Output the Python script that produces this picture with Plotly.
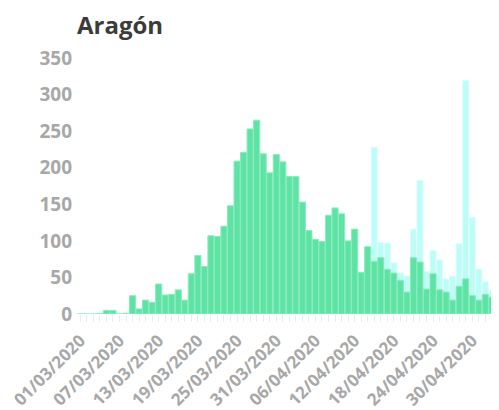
import plotly.graph_objects as go
import datetime as dt

# ---- data ----
start = dt.date(2020, 3, 1)
n_days = 65
dates = [(start + dt.timedelta(days=i)).strftime("%d/%m/%Y") for i in range(n_days)]

confirmed = [0, 0, 0, 1, 5, 5, 0, 1, 25, 7,
             19, 16, 41, 26, 27, 33, 19, 55, 80, 65,
             107, 106, 120, 148, 209, 221, 253, 265, 219, 193,
             218, 208, 188, 188, 153, 114, 102, 99, 135, 145,
             137, 100, 116, 57, 92, 72, 77, 61, 56, 46,
             30, 77, 71, 34, 55, 33, 30, 19, 38, 48,
             25, 19, 27, 23, 19]

total = [None] * 45 + [228, 98, 97, 70, 56,
                       52, 116, 183, 58, 87, 74, 48, 52, 96, 319,
                       132, 61, 44, 32, 44]

tick_labels = ["01/03/2020", "07/03/2020", "13/03/2020", "19/03/2020", "25/03/2020",
               "31/03/2020", "06/04/2020", "12/04/2020", "18/04/2020", "24/04/2020",
               "30/04/2020"]

title_text = "Aragón"

# ---- figure ----
# the page body has an 8px default margin; the figure fits inside what is left
fig = go.Figure()
fig.add_trace(go.Bar(
    x=dates, y=total,
    marker=dict(color="#bdfcf7", line=dict(color="#dcfefb", width=1)),
    hoverinfo="x+y", showlegend=False,
))
fig.add_trace(go.Bar(
    x=dates, y=confirmed,
    marker=dict(color="#5fe3a5", line=dict(color="#8aecbf", width=1)),
    hoverinfo="x+y", showlegend=False,
))

ticktext = [d if d in tick_labels else "" for d in dates]

fig.update_layout(
    width=483, height=402,
    margin=dict(l=69, r=0, t=50, b=96),
    paper_bgcolor="white", plot_bgcolor="white",
    barmode="overlay", bargap=0.06,
    font=dict(family="Open Sans", color="#a8a8a8"),
    title=dict(text="<b>" + title_text + "</b>", x=0, xref="paper", xanchor="left",
               y=1 - 18 / 402, yref="container", yanchor="middle", automargin=False,
               font=dict(family="Open Sans", size=24, color="#3b3b3b")),
    xaxis=dict(
        type="category", range=[-0.5, 62.87], automargin=False,
        tickmode="array", tickvals=dates, ticktext=ticktext,
        tickangle=-45, ticks="outside", ticklen=7, tickwidth=1, tickcolor="#ececec",
        ticklabelstandoff=2,
        tickfont=dict(family="Open Sans", size=17, color="#a8a8a8", weight="bold"),
        showgrid=False, showline=False, zeroline=False,
    ),
    yaxis=dict(
        range=[0, 350], tickvals=[0, 50, 100, 150, 200, 250, 300, 350], automargin=False,
        ticklabelstandoff=4,
        tickfont=dict(family="Open Sans", size=19, color="#a8a8a8", weight="bold"),
        showgrid=False, showline=False, zeroline=False, ticks="",
    ),
)

fig.write_html("out.html")
